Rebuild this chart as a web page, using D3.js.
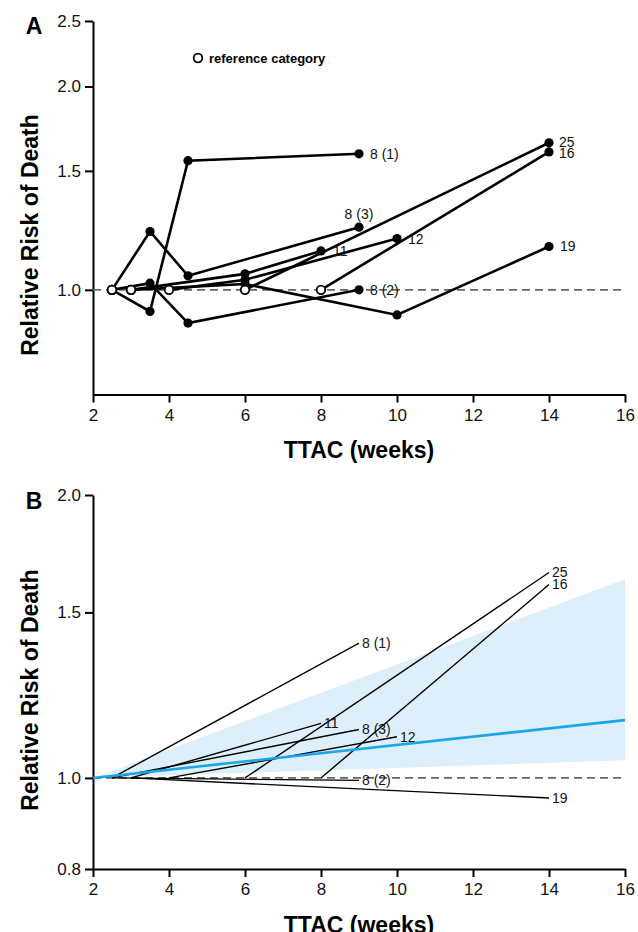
<!DOCTYPE html>
<html lang="en">
<head>
<meta charset="UTF-8">
<title>TTAC and Relative Risk of Death</title>
<style>
  body { margin: 0; background: #fff; }
  svg { display: block; font-family: Arial, "Liberation Sans", sans-serif; }
  .axis path, .axis line { stroke: #000; stroke-width: 2; }
  .axis text { font-size: 17px; fill: #111; }
  .title { font-weight: bold; font-size: 23px; fill: #000; }
  .lbl { font-size: 14px; fill: #111; }
</style>
</head>
<body>
<div id="chart"></div>
<script src="https://d3js.org/d3.v7.min.js"></script>
<script>
// ---- data ----
const xTicks = [2, 4, 6, 8, 10, 12, 14, 16];
const yTicksA = [1.0, 1.5, 2.0, 2.5];
const yTicksB = [0.8, 1.0, 1.5, 2.0];

const studies = ["8 (1)", "8 (2)", "8 (3)", "11", "12", "16", "19", "25"];

// panel A: category TTAC (weeks) and relative risk, first point = reference category
const ttacA = [
  [2.5, 3.5, 4.5, 9],
  [2.5, 3.5, 4.5, 9],
  [2.5, 3.5, 4.5, 9],
  [3, 6, 8],
  [4, 6, 10],
  [8, 14],
  [3, 6, 10, 14],
  [6, 14]
];
const rrA = [
  [1, 0.929, 1.553, 1.59],
  [1, 1.023, 0.893, 1.0],
  [1, 1.22, 1.049, 1.238],
  [1, 1.056, 1.142],
  [1, 1.035, 1.191],
  [1, 1.60],
  [1, 1.02, 0.918, 1.159],
  [1, 1.651]
];

// panel B: fitted trend per study
const ttacStartB = [2.5, 2.5, 2.5, 3, 4, 8, 3, 6];
const ttacEndB = [9, 9, 9, 8, 10, 14, 14, 14];
const rrEndB = [1.391, 0.994, 1.126, 1.143, 1.106, 1.606, 0.952, 1.654];

// pooled estimate and its confidence band
const pooledTtac = [2, 16];
const pooledRR = [1.0, 1.152];
const bandLow = [1.0, 1.044];
const bandHigh = [1.0, 1.627];

// ---- layout ----
const W = 638, H = 932;
const svg = d3.select("#chart").append("svg").attr("width", W).attr("height", H);

const x = d3.scaleLinear().domain([2, 16]).range([93, 625]);
const yA = d3.scaleLog().domain([0.7, 2.5]).range([394.5, 21]);
const yB = d3.scaleLog().domain([0.8, 2.0]).range([869, 495]);

function axes(y, ticks, axisY, titleY, letter, letterY, yTitleCenter) {
  svg.append("g").attr("class", "axis")
    .attr("transform", `translate(0,${axisY})`)
    .call(d3.axisBottom(x).tickValues(xTicks).tickSize(8).tickSizeOuter(0).tickPadding(6).tickFormat(d3.format("d")));
  svg.append("g").attr("class", "axis")
    .attr("transform", `translate(${x(2)},0)`)
    .call(d3.axisLeft(y).tickValues(ticks).tickSize(8).tickSizeOuter(0).tickPadding(4).tickFormat(d3.format(".1f")));
  svg.append("text").attr("class", "title")
    .attr("x", (x(2) + x(16)) / 2).attr("y", titleY)
    .attr("text-anchor", "middle").text("TTAC (weeks)");
  svg.append("text").attr("class", "title")
    .attr("transform", `translate(38,${yTitleCenter}) rotate(-90)`)
    .attr("text-anchor", "middle").text("Relative Risk of Death");
  svg.append("text").attr("class", "title")
    .attr("x", 34).attr("y", letterY).attr("text-anchor", "middle").text(letter);
  // reference line
  svg.append("line")
    .attr("x1", x(2)).attr("x2", x(16)).attr("y1", y(1)).attr("y2", y(1))
    .attr("stroke", "#666").attr("stroke-width", 1.8).attr("stroke-dasharray", "8,5");
}

// ---- panel A ----
axes(yA, yTicksA, 394.5, 458, "A", 34, 235);

const lineA = d3.line().x(d => x(d[0])).y(d => yA(d[1]));
studies.forEach((s, i) => {
  const pts = ttacA[i].map((t, j) => [t, rrA[i][j]]);
  svg.append("path").attr("d", lineA(pts))
    .attr("fill", "none").attr("stroke", "#000").attr("stroke-width", 2.6);
});
studies.forEach((s, i) => {
  const pts = ttacA[i].map((t, j) => [t, rrA[i][j]]);
  svg.selectAll(null).data(pts.slice(1)).enter().append("circle")
    .attr("cx", d => x(d[0])).attr("cy", d => yA(d[1])).attr("r", 4.6).attr("fill", "#000");
});
studies.forEach((s, i) => {
  const p = [ttacA[i][0], rrA[i][0]];
  svg.append("circle").attr("cx", x(p[0])).attr("cy", yA(p[1])).attr("r", 4.3)
    .attr("fill", "#fff").attr("stroke", "#000").attr("stroke-width", 1.8);
});

// labels at last point (offsets are styling only)
const labOffA = {
  "8 (1)": [11, 0, "start"], "8 (2)": [11, 0, "start"], "8 (3)": [0, -13, "middle"],
  "11": [12, 0, "start"], "12": [11, 1, "start"], "16": [10, 1, "start"],
  "19": [11, 0, "start"], "25": [10, -1, "start"]
};
studies.forEach((s, i) => {
  const n = ttacA[i].length - 1;
  const o = labOffA[s];
  svg.append("text").attr("class", "lbl")
    .attr("x", x(ttacA[i][n]) + o[0]).attr("y", yA(rrA[i][n]) + o[1])
    .attr("dy", "0.35em").attr("text-anchor", o[2]).text(s);
});

// legend
svg.append("circle").attr("cx", 198).attr("cy", 58).attr("r", 4.3)
  .attr("fill", "#fff").attr("stroke", "#000").attr("stroke-width", 1.8);
svg.append("text").attr("x", 209).attr("y", 58).attr("dy", "0.35em")
  .attr("font-size", 13).attr("font-weight", "bold").text("reference category");

// ---- panel B ----
const band = pooledTtac.map((t, i) => ({ t, lo: bandLow[i], hi: bandHigh[i] }));
svg.append("path").datum(band)
  .attr("d", d3.area().x(d => x(d.t)).y0(d => yB(d.lo)).y1(d => yB(d.hi)))
  .attr("fill", "#ddeffa");

axes(yB, yTicksB, 869, 933, "B", 509, 690);

studies.forEach((s, i) => {
  svg.append("line")
    .attr("x1", x(ttacStartB[i])).attr("y1", yB(1))
    .attr("x2", x(ttacEndB[i])).attr("y2", yB(rrEndB[i]))
    .attr("stroke", "#000").attr("stroke-width", 1.4);
  svg.append("text").attr("class", "lbl")
    .attr("x", x(ttacEndB[i]) + 3).attr("y", yB(rrEndB[i]))
    .attr("dy", "0.35em").text(s);
});

svg.append("path").datum(pooledTtac.map((t, i) => [t, pooledRR[i]]))
  .attr("d", d3.line().x(d => x(d[0])).y(d => yB(d[1])))
  .attr("fill", "none").attr("stroke", "#1aa6e8").attr("stroke-width", 2.6);
</script>
</body>
</html>
